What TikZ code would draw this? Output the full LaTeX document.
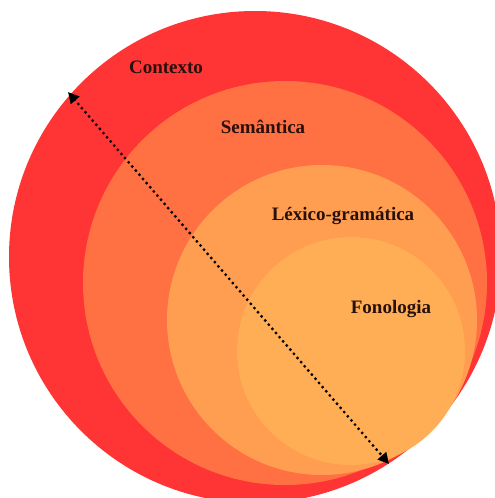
\documentclass[tikz,border=0pt]{standalone}
\usepackage{fontspec}
\setmainfont{Liberation Serif}
\usetikzlibrary{arrows.meta}
\definecolor{contexto}{RGB}{255,52,52}
\definecolor{semantica}{RGB}{255,112,66}
\definecolor{lexico}{RGB}{255,158,80}
\definecolor{fonologia}{RGB}{255,174,86}
\definecolor{rotulo}{RGB}{40,16,12}
\begin{document}
\begin{tikzpicture}[x=1pt,y=-1pt,
  nivel/.style={font=\bfseries\fontsize{19}{22}\selectfont,text=rotulo,anchor=base,inner sep=0pt},
  eixo/.style={line width=3.2pt,dash pattern=on 0pt off 5.5pt,line cap=round,
    {Triangle[length=11pt,width=11pt]}-{Triangle[length=11pt,width=11pt]}}]
\useasboundingbox (0,0) rectangle (495,498);
% circles, outer to inner
\fill[contexto] (255,257) circle (246pt);
\fill[semantica] (285,283) circle (202pt);
\fill[lexico] (322,320) circle (155pt);
\fill[fonologia] (351,351) circle (114pt);
% labels
\node[nivel] (ctx) at (166,73) {Contexto};
\node[nivel] (sem) at (263,133) {Semântica};
\node[nivel] (lex) at (343,220) {Léxico-gramática};
\node[nivel] (fon) at (391,313) {Fonologia};
% dotted double arrow
\coordinate (topo) at (68,92);
\coordinate (base) at (389,464);
\draw[eixo] (topo) -- (base);
\end{tikzpicture}
\end{document}
